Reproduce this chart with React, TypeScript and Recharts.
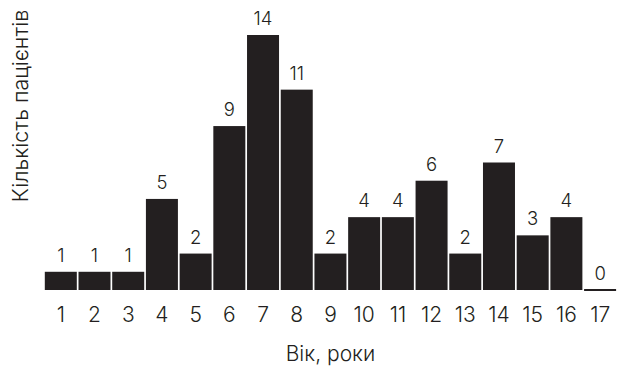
import { BarChart, Bar, XAxis, YAxis, LabelList } from "recharts";

// Ages and patient counts
const AGES = ["1", "2", "3", "4", "5", "6", "7", "8", "9", "10", "11", "12", "13", "14", "15", "16", "17"];
const PATIENTS = [1, 1, 1, 5, 2, 9, 14, 11, 2, 4, 4, 6, 2, 7, 3, 4, 0];

const DATA = AGES.map((age, i) => ({ age, count: PATIENTS[i] }));

const INK = "#231f20";
const FONT = "Inter, 'DejaVu Sans', sans-serif";
const WEIGHT = 300;

// zero values still get a thin baseline stroke
function BarShape(props: any) {
  const { x, y, width, height } = props;
  if (!height || height < 1) {
    return <rect x={x} y={y - 1} width={width} height={2} fill={INK} />;
  }
  return <rect x={x} y={y} width={width} height={height} fill={INK} />;
}

export default function App() {
  return (
    <div style={{ position: "absolute", left: 0, top: 0, background: "#fff" }}>
      <BarChart
        width={619}
        height={367}
        data={DATA}
        margin={{ top: 35, right: 2, left: 0, bottom: 0 }}
        barCategoryGap={0.8}
      >
        <YAxis
          width={44}
          domain={[0, 14]}
          tick={false}
          axisLine={false}
          tickLine={false}
          label={{
            content: () => (
              <text
                x={0}
                y={0}
                transform="translate(28, 106) rotate(-90)"
                textAnchor="middle"
                fontFamily={FONT}
                fontWeight={WEIGHT}
                fontSize={21.5}
                fill={INK}
              >
                Кількість пацієнтів
              </text>
            ),
          }}
        />
        <XAxis
          dataKey="age"
          height={77}
          axisLine={false}
          tickLine={false}
          interval={0}
          tick={{ fill: INK, fontSize: 21, fontFamily: FONT, fontWeight: WEIGHT }}
          tickMargin={11}
          label={{
            value: "Вік, роки",
            position: "insideBottom",
            offset: 6,
            fill: INK,
            fontSize: 21,
            fontFamily: FONT,
            fontWeight: WEIGHT,
          }}
        />
        <Bar dataKey="count" fill={INK} shape={BarShape} isAnimationActive={false}>
          <LabelList
            dataKey="count"
            position="top"
            offset={10}
            fill={INK}
            fontSize={18.5}
            fontFamily={FONT}
            fontWeight={WEIGHT}
          />
        </Bar>
      </BarChart>
    </div>
  );
}
